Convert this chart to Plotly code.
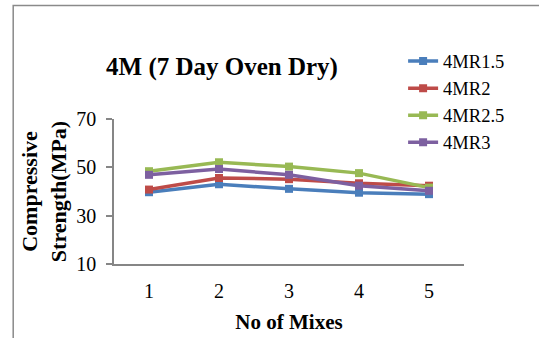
import plotly.graph_objects as go

# Mix numbers on the x axis
mixes = ["1", "2", "3", "4", "5"]

# Compressive strength (MPa) for each series
mr1_5 = [39.7, 43.0, 41.1, 39.5, 38.9]
mr2 = [40.8, 45.6, 45.1, 43.4, 42.4]
mr2_5 = [48.4, 52.1, 50.3, 47.6, 41.6]
mr3 = [46.9, 49.3, 46.9, 42.4, 40.3]

series_names = ["4MR1.5", "4MR2", "4MR2.5", "4MR3"]
series_values = [mr1_5, mr2, mr2_5, mr3]
series_colors = ["#4A7EBB", "#BE4B48", "#98B954", "#7D60A0"]

y_ticks = [10, 30, 50, 70]

FONT = "Liberation Serif"

fig = go.Figure()
for name, vals, col in zip(series_names, series_values, series_colors):
    fig.add_trace(go.Scatter(
        x=mixes, y=vals, name=name, mode="lines+markers",
        line=dict(color=col, width=3.5),
        marker=dict(symbol="square", size=8, color=col),
    ))

# Outer chart frame
fig.add_shape(type="rect", xref="paper", yref="paper",
              x0=-0.288, x1=1.6, y0=-1.0, y1=1.782,
              line=dict(color="#8a8a8a", width=1.5), fillcolor="rgba(0,0,0,0)",
              layer="below")

fig.update_layout(
    width=539, height=338,
    margin=dict(l=114, r=75, t=119, b=74, autoexpand=False),
    paper_bgcolor="white", plot_bgcolor="white",
    font=dict(family=FONT, color="black", size=20),
    title=dict(text="<b>4M (7 Day Oven Dry)</b>", font=dict(size=25, family=FONT, color="black"),
               x=(222 / 539), xanchor="center", y=1 - 66 / 338, yanchor="middle"),
    legend=dict(x=0.826, xanchor="left", y=1.527, yanchor="top",
                font=dict(size=18.5, family=FONT, color="black"), bgcolor="rgba(0,0,0,0)",
                tracegroupgap=0),
    showlegend=True,
)

fig.update_xaxes(
    type="category", range=[-0.5, 4.5], automargin=False,
    showline=True, linecolor="#868686", linewidth=1.5,
    ticks="", showgrid=False, zeroline=False,
    tickfont=dict(size=20, family=FONT, color="black"), ticklabelstandoff=8,
    title=dict(text="<b>No of Mixes</b>", font=dict(size=21, family=FONT, color="black"), standoff=14),
)
fig.update_yaxes(
    range=[10, 70], tickvals=y_ticks, ticktext=[str(v) for v in y_ticks], automargin=False,
    showline=True, linecolor="#868686", linewidth=1.5,
    ticks="outside", ticklen=6, tickcolor="#868686", tickwidth=1.5,
    showgrid=False, zeroline=False,
    tickfont=dict(size=20, family=FONT, color="black"), ticklabelstandoff=6,
    title=dict(text="<b>Compressive<br>Strength(MPa)</b>", font=dict(size=22, family=FONT, color="black"), standoff=4),
)

fig.write_html("out.html")
